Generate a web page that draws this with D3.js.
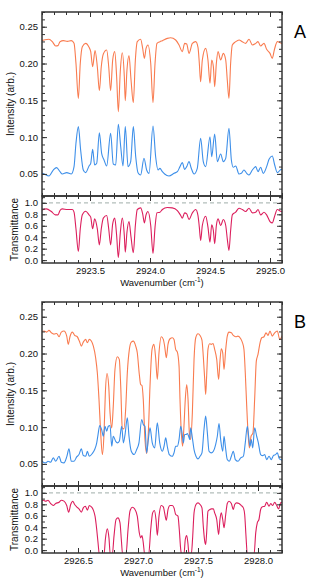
<!DOCTYPE html>
<html>
<head>
<meta charset="utf-8">
<script src="https://cdn.jsdelivr.net/npm/d3@7"></script>
<style>
  body { margin: 0; background: #fff; }
  svg { display: block; font-family: "Liberation Sans", Arial, sans-serif; }
</style>
</head>
<body>
<svg id="chart" width="312" height="588"></svg>
<script>
// ---- panel A (2923.1 - 2925.1 cm-1) ----
const aSample = [
  [2923.089,0.2311],[2923.117,0.2320],[2923.158,0.2329],[2923.186,0.2297],[2923.214,0.2238],[2923.233,0.2243],
  [2923.250,0.2297],[2923.278,0.2311],[2923.311,0.2301],[2923.344,0.2311],[2923.367,0.2274],[2923.383,0.2003],
  [2923.403,0.1527],[2923.419,0.2003],[2923.436,0.2229],[2923.464,0.2274],[2923.492,0.2220],[2923.506,0.2161],
  [2923.522,0.1957],[2923.542,0.2175],[2923.561,0.1957],[2923.578,0.1631],[2923.594,0.1957],[2923.611,0.2129],
  [2923.639,0.2184],[2923.656,0.1957],[2923.672,0.1631],[2923.689,0.2048],[2923.706,0.2161],[2923.722,0.1821],
  [2923.736,0.1346],[2923.753,0.1912],[2923.769,0.2147],[2923.786,0.1821],[2923.794,0.1495],[2923.808,0.1912],
  [2923.825,0.2107],[2923.842,0.1776],[2923.861,0.1468],[2923.878,0.2048],[2923.894,0.2297],[2923.922,0.2329],
  [2923.939,0.2206],[2923.953,0.2070],[2923.967,0.2206],[2923.983,0.2252],[2924.006,0.2003],[2924.025,0.1468],
  [2924.042,0.2003],[2924.058,0.2274],[2924.083,0.2297],[2924.103,0.2311],[2924.144,0.2342],[2924.172,0.2351],
  [2924.214,0.2320],[2924.242,0.2252],[2924.269,0.2161],[2924.289,0.2274],[2924.306,0.2265],[2924.325,0.2138],
  [2924.353,0.2274],[2924.381,0.2297],[2924.400,0.2220],[2924.411,0.2003],[2924.422,0.1753],[2924.436,0.2048],
  [2924.464,0.2206],[2924.483,0.2048],[2924.500,0.1731],[2924.514,0.2048],[2924.528,0.1957],[2924.539,0.1685],
  [2924.553,0.2003],[2924.567,0.2161],[2924.589,0.2048],[2924.611,0.2138],[2924.631,0.2048],[2924.644,0.1776],
  [2924.658,0.1527],[2924.672,0.2003],[2924.686,0.2252],[2924.714,0.2297],[2924.742,0.2320],[2924.769,0.2297],
  [2924.797,0.2274],[2924.825,0.2329],[2924.853,0.2252],[2924.881,0.2274],[2924.900,0.2297],[2924.922,0.2238],
  [2924.950,0.2274],[2924.972,0.2193],[2925.000,0.2138],[2925.019,0.2070],[2925.036,0.2184],[2925.061,0.2297],
  [2925.094,0.2274],[2925.108,0.2265]
];
const aReference = [
  [2923.089,0.0517],[2923.117,0.0499],[2923.158,0.0472],[2923.194,0.0553],[2923.222,0.0585],[2923.250,0.0531],
  [2923.269,0.0499],[2923.306,0.0517],[2923.344,0.0499],[2923.367,0.0599],[2923.383,0.0916],[2923.403,0.1142],
  [2923.422,0.0825],[2923.444,0.0553],[2923.464,0.0517],[2923.492,0.0608],[2923.506,0.0644],[2923.522,0.0834],
  [2923.539,0.0621],[2923.556,0.0644],[2923.578,0.1060],[2923.597,0.0780],[2923.617,0.0689],[2923.639,0.0608],
  [2923.672,0.1051],[2923.694,0.0635],[2923.714,0.0621],[2923.736,0.1174],[2923.756,0.0870],[2923.775,0.0608],
  [2923.794,0.1142],[2923.817,0.0599],[2923.839,0.0667],[2923.861,0.1142],[2923.881,0.0734],[2923.900,0.0517],
  [2923.922,0.0485],[2923.950,0.0712],[2923.972,0.0553],[2923.992,0.0508],[2924.025,0.1151],[2924.047,0.0734],
  [2924.067,0.0553],[2924.083,0.0576],[2924.103,0.0531],[2924.122,0.0499],[2924.158,0.0472],[2924.200,0.0508],
  [2924.228,0.0531],[2924.250,0.0599],[2924.269,0.0653],[2924.289,0.0562],[2924.306,0.0599],[2924.325,0.0667],
  [2924.344,0.0576],[2924.367,0.0499],[2924.394,0.0576],[2924.422,0.0984],[2924.444,0.0667],[2924.464,0.0599],
  [2924.500,0.1006],[2924.514,0.0734],[2924.539,0.1042],[2924.561,0.0667],[2924.589,0.0771],[2924.611,0.0667],
  [2924.631,0.0712],[2924.658,0.1119],[2924.678,0.0689],[2924.694,0.0590],[2924.714,0.0608],[2924.742,0.0499],
  [2924.761,0.0508],[2924.783,0.0553],[2924.806,0.0508],[2924.825,0.0485],[2924.853,0.0553],[2924.881,0.0599],
  [2924.900,0.0531],[2924.922,0.0590],[2924.944,0.0508],[2924.972,0.0599],[2924.992,0.0698],[2925.019,0.0743],
  [2925.039,0.0621],[2925.061,0.0517],[2925.094,0.0562],[2925.108,0.0553]
];
const aTransmit = [
  [2923.089,0.866],[2923.136,0.895],[2923.178,0.849],[2923.211,0.791],[2923.233,0.791],[2923.250,0.866],
  [2923.269,0.895],[2923.311,0.884],[2923.353,0.884],[2923.367,0.837],[2923.383,0.547],[2923.403,0.151],
  [2923.419,0.547],[2923.436,0.791],[2923.464,0.855],[2923.492,0.791],[2923.506,0.750],[2923.522,0.547],
  [2923.539,0.721],[2923.561,0.547],[2923.578,0.267],[2923.594,0.547],[2923.611,0.733],[2923.639,0.779],
  [2923.656,0.547],[2923.672,0.267],[2923.689,0.634],[2923.706,0.733],[2923.722,0.430],[2923.736,0.047],
  [2923.753,0.488],[2923.769,0.733],[2923.786,0.430],[2923.794,0.140],[2923.808,0.488],[2923.825,0.674],
  [2923.842,0.401],[2923.861,0.128],[2923.878,0.605],[2923.894,0.884],[2923.922,0.913],[2923.939,0.808],
  [2923.953,0.651],[2923.967,0.791],[2923.983,0.849],[2924.006,0.605],[2924.025,0.116],[2924.042,0.576],
  [2924.058,0.826],[2924.083,0.837],[2924.103,0.884],[2924.144,0.919],[2924.186,0.913],[2924.228,0.866],
  [2924.256,0.779],[2924.269,0.733],[2924.289,0.826],[2924.306,0.808],[2924.325,0.709],[2924.353,0.826],
  [2924.381,0.884],[2924.400,0.779],[2924.411,0.576],[2924.422,0.343],[2924.436,0.605],[2924.464,0.767],
  [2924.483,0.576],[2924.500,0.314],[2924.514,0.616],[2924.528,0.517],[2924.539,0.285],[2924.553,0.605],
  [2924.567,0.721],[2924.589,0.605],[2924.611,0.709],[2924.631,0.605],[2924.644,0.372],[2924.658,0.169],
  [2924.672,0.517],[2924.686,0.791],[2924.714,0.837],[2924.742,0.907],[2924.769,0.884],[2924.797,0.849],
  [2924.825,0.907],[2924.853,0.826],[2924.881,0.837],[2924.900,0.884],[2924.922,0.791],[2924.950,0.837],
  [2924.972,0.791],[2925.000,0.674],[2925.019,0.651],[2925.036,0.750],[2925.061,0.884],[2925.094,0.849],
  [2925.108,0.849]
];

// ---- panel B (2926.2 - 2928.2 cm-1) ----
const bSample = [
  [2926.189,0.2291],[2926.217,0.2305],[2926.239,0.2291],[2926.258,0.2314],[2926.278,0.2282],[2926.300,0.2264],
  [2926.322,0.2273],[2926.342,0.2228],[2926.361,0.2291],[2926.383,0.2305],[2926.406,0.2237],[2926.419,0.2124],
  [2926.433,0.2228],[2926.453,0.2291],[2926.472,0.2246],[2926.494,0.2228],[2926.511,0.2169],[2926.528,0.2101],
  [2926.544,0.2155],[2926.564,0.2192],[2926.578,0.2146],[2926.594,0.2192],[2926.611,0.2169],[2926.628,0.2101],
  [2926.647,0.1942],[2926.661,0.1738],[2926.675,0.1375],[2926.689,0.0922],[2926.703,0.0627],[2926.717,0.0922],
  [2926.728,0.1466],[2926.742,0.1729],[2926.756,0.1557],[2926.767,0.1194],[2926.781,0.0990],[2926.794,0.1285],
  [2926.808,0.1783],[2926.828,0.1956],[2926.844,0.1920],[2926.856,0.1557],[2926.869,0.0990],[2926.883,0.0976],
  [2926.897,0.1239],[2926.911,0.1738],[2926.928,0.2056],[2926.944,0.2155],[2926.961,0.2169],[2926.981,0.2101],
  [2926.994,0.2010],[2927.011,0.1715],[2927.022,0.1579],[2927.033,0.1566],[2927.044,0.1375],[2927.058,0.0831],
  [2927.072,0.0641],[2927.086,0.0922],[2927.100,0.1557],[2927.117,0.2056],[2927.133,0.2124],[2927.147,0.1942],
  [2927.161,0.1647],[2927.175,0.2010],[2927.194,0.2228],[2927.211,0.2192],[2927.222,0.2101],[2927.236,0.1942],
  [2927.250,0.2124],[2927.267,0.2201],[2927.286,0.2214],[2927.300,0.2192],[2927.314,0.2056],[2927.328,0.2019],
  [2927.342,0.1829],[2927.350,0.1375],[2927.361,0.0922],[2927.372,0.0740],[2927.383,0.1012],[2927.394,0.1375],
  [2927.406,0.1579],[2927.417,0.1375],[2927.428,0.0922],[2927.439,0.0831],[2927.453,0.1194],[2927.467,0.1920],
  [2927.481,0.2214],[2927.500,0.2269],[2927.517,0.2246],[2927.533,0.2183],[2927.544,0.1965],[2927.556,0.1647],
  [2927.564,0.1443],[2927.572,0.1693],[2927.583,0.2056],[2927.597,0.2133],[2927.611,0.2124],[2927.625,0.2137],
  [2927.639,0.2056],[2927.656,0.1920],[2927.672,0.1647],[2927.683,0.1897],[2927.694,0.2065],[2927.706,0.2010],
  [2927.717,0.1783],[2927.731,0.2056],[2927.744,0.2237],[2927.758,0.2291],[2927.778,0.2282],[2927.794,0.2246],
  [2927.814,0.2228],[2927.833,0.2237],[2927.856,0.2201],[2927.869,0.2155],[2927.883,0.2056],[2927.894,0.1738],
  [2927.906,0.1285],[2927.917,0.0922],[2927.928,0.0718],[2927.942,0.0876],[2927.958,0.0922],[2927.972,0.1375],
  [2927.986,0.1897],[2928.000,0.1988],[2928.017,0.2146],[2928.031,0.2214],[2928.050,0.2228],[2928.067,0.2282],
  [2928.083,0.2246],[2928.100,0.2305],[2928.119,0.2237],[2928.139,0.2282],[2928.161,0.2305],[2928.181,0.2192],
  [2928.203,0.2246]
];
const bReference = [
  [2926.189,0.0559],[2926.211,0.0523],[2926.231,0.0514],[2926.250,0.0536],[2926.272,0.0523],[2926.294,0.0582],
  [2926.314,0.0536],[2926.342,0.0604],[2926.361,0.0523],[2926.383,0.0514],[2926.406,0.0595],[2926.425,0.0704],
  [2926.444,0.0536],[2926.467,0.0536],[2926.489,0.0595],[2926.508,0.0627],[2926.528,0.0704],[2926.544,0.0613],
  [2926.564,0.0604],[2926.578,0.0672],[2926.594,0.0604],[2926.619,0.0641],[2926.639,0.0695],[2926.656,0.0786],
  [2926.667,0.0899],[2926.681,0.1022],[2926.697,0.0967],[2926.711,0.0876],[2926.725,0.1012],[2926.739,0.0944],
  [2926.753,0.1012],[2926.767,0.1022],[2926.781,0.0740],[2926.794,0.0876],[2926.814,0.0808],[2926.828,0.0786],
  [2926.844,0.0808],[2926.864,0.1012],[2926.878,0.0786],[2926.892,0.0899],[2926.911,0.1126],[2926.925,0.0876],
  [2926.944,0.0672],[2926.967,0.0627],[2926.989,0.0695],[2927.008,0.0786],[2927.031,0.1103],[2927.044,0.1035],
  [2927.058,0.1012],[2927.072,0.0650],[2927.086,0.0831],[2927.100,0.0990],[2927.119,0.0786],[2927.139,0.0718],
  [2927.161,0.1058],[2927.181,0.0786],[2927.203,0.0672],[2927.217,0.0740],[2927.231,0.0854],[2927.244,0.0740],
  [2927.261,0.0627],[2927.286,0.0604],[2927.300,0.0650],[2927.314,0.0740],[2927.328,0.0740],[2927.342,0.0831],
  [2927.356,0.1012],[2927.367,0.0922],[2927.378,0.0786],[2927.389,0.0899],[2927.400,0.0899],[2927.411,0.0913],
  [2927.422,0.0876],[2927.431,0.0831],[2927.439,0.0990],[2927.453,0.0854],[2927.467,0.0695],[2927.483,0.0604],
  [2927.500,0.0568],[2927.517,0.0604],[2927.533,0.0650],[2927.550,0.0967],[2927.564,0.1149],[2927.578,0.0922],
  [2927.592,0.0672],[2927.611,0.0650],[2927.628,0.0672],[2927.647,0.0763],[2927.661,0.0876],[2927.675,0.1049],
  [2927.689,0.0831],[2927.706,0.0672],[2927.717,0.0876],[2927.728,0.0740],[2927.744,0.0559],[2927.761,0.0536],
  [2927.778,0.0604],[2927.794,0.0672],[2927.811,0.0559],[2927.833,0.0536],[2927.856,0.0582],[2927.878,0.0604],
  [2927.894,0.0786],[2927.911,0.1012],[2927.922,0.0876],[2927.933,0.0740],[2927.944,0.0831],[2927.956,0.0718],
  [2927.972,0.0990],[2927.989,0.0876],[2928.003,0.0786],[2928.022,0.0627],[2928.039,0.0613],[2928.056,0.0627],
  [2928.072,0.0559],[2928.092,0.0604],[2928.111,0.0559],[2928.128,0.0613],[2928.147,0.0627],[2928.161,0.0650],
  [2928.178,0.0568],[2928.203,0.0550]
];
const bTransmit = [
  [2926.189,0.855],[2926.211,0.872],[2926.231,0.855],[2926.250,0.872],[2926.272,0.814],[2926.294,0.779],
  [2926.314,0.814],[2926.342,0.837],[2926.361,0.872],[2926.383,0.855],[2926.406,0.779],[2926.422,0.663],
  [2926.439,0.797],[2926.456,0.855],[2926.472,0.797],[2926.489,0.756],[2926.508,0.721],[2926.528,0.663],
  [2926.544,0.738],[2926.561,0.767],[2926.578,0.698],[2926.594,0.779],[2926.611,0.756],[2926.628,0.698],
  [2926.642,0.593],[2926.656,0.360],[2926.667,0.128],[2926.678,-0.076],[2926.717,-0.076],[2926.728,0.186],
  [2926.744,0.372],[2926.758,0.215],[2926.769,-0.076],[2926.786,-0.076],[2926.800,0.244],[2926.817,0.535],
  [2926.833,0.564],[2926.850,0.477],[2926.861,0.186],[2926.872,-0.076],[2926.900,-0.076],[2926.917,0.360],
  [2926.933,0.680],[2926.953,0.750],[2926.972,0.721],[2926.994,0.593],[2927.011,0.302],[2927.022,0.215],
  [2927.033,0.256],[2927.044,0.128],[2927.056,-0.076],[2927.089,-0.076],[2927.106,0.360],[2927.122,0.651],
  [2927.136,0.692],[2927.150,0.535],[2927.161,0.256],[2927.175,0.593],[2927.194,0.779],[2927.211,0.756],
  [2927.222,0.651],[2927.236,0.523],[2927.250,0.709],[2927.267,0.779],[2927.286,0.779],[2927.300,0.738],
  [2927.314,0.622],[2927.333,0.593],[2927.344,0.360],[2927.356,0.012],[2927.364,-0.076],[2927.383,-0.076],
  [2927.394,0.186],[2927.406,0.256],[2927.417,0.099],[2927.425,-0.076],[2927.444,-0.076],[2927.456,0.244],
  [2927.467,0.651],[2927.483,0.797],[2927.500,0.826],[2927.517,0.797],[2927.533,0.738],[2927.544,0.419],
  [2927.556,0.157],[2927.564,0.099],[2927.572,0.302],[2927.583,0.680],[2927.600,0.709],[2927.611,0.721],
  [2927.628,0.721],[2927.639,0.651],[2927.656,0.535],[2927.672,0.273],[2927.683,0.535],[2927.694,0.651],
  [2927.706,0.535],[2927.717,0.390],[2927.731,0.622],[2927.744,0.814],[2927.758,0.855],[2927.778,0.814],
  [2927.794,0.709],[2927.806,0.797],[2927.822,0.826],[2927.842,0.814],[2927.861,0.779],[2927.878,0.738],
  [2927.889,0.622],[2927.900,0.244],[2927.911,-0.076],[2927.967,-0.076],[2927.981,0.302],[2927.994,0.477],
  [2928.008,0.535],[2928.022,0.709],[2928.036,0.756],[2928.056,0.767],[2928.072,0.837],[2928.092,0.767],
  [2928.106,0.814],[2928.122,0.779],[2928.139,0.837],[2928.156,0.779],[2928.172,0.721],[2928.189,0.826],
  [2928.206,0.837]
];

// axis ticks
const intensityMajor = [0.05, 0.10, 0.15, 0.20, 0.25];
const transMajor = [0.0, 0.2, 0.4, 0.6, 0.8, 1.0];
const aTicks = [2923.5, 2924.0, 2924.5, 2925.0];
const bTicks = [2926.5, 2927.0, 2927.5, 2928.0];

const panels = [
  {name: 'A', xDomain: [2923.1, 2925.1], ticks: aTicks, top: 12, sample: aSample, ref: aReference, trans: aTransmit},
  {name: 'B', xDomain: [2926.2, 2928.2], ticks: bTicks, top: 302, sample: bSample, ref: bReference, trans: bTransmit}
];

const colors = {sample: '#f97b4f', ref: '#3d8fe9', trans: '#dc1f5d', dash: '#b3bebb', frame: '#333'};
const left = 42, right = 282;
const upperH = 184, lowerH = 67;

const svg = d3.select('#chart');

function styleAxis(g) {
  g.select('.domain').remove();
  g.selectAll('.tick line').attr('stroke', colors.frame).attr('stroke-width', 1);
  g.selectAll('.tick text').attr('fill', '#111').style('font-size', '9.5px');
}

// inward ticks on all four sides of a box, labels left (and bottom if asked)
function frameAxes(g, x, y, yTop, yBot, major, minor, fmt, labelBottom) {
  g.append('g').attr('transform', `translate(${left},0)`)
    .call(d3.axisLeft(y).tickValues(minor).tickSize(-3).tickFormat(''))
    .call(styleAxis);
  g.append('g').attr('transform', `translate(${left},0)`)
    .call(d3.axisLeft(y).tickValues(major).tickSize(-5).tickPadding(4).tickFormat(d3.format(fmt)))
    .call(styleAxis);
  g.append('g').attr('transform', `translate(${right},0)`)
    .call(d3.axisRight(y).tickValues(minor).tickSize(-3).tickFormat(''))
    .call(styleAxis);
  g.append('g').attr('transform', `translate(${right},0)`)
    .call(d3.axisRight(y).tickValues(major).tickSize(-5).tickFormat(''))
    .call(styleAxis);

  const xMinor = d3.range(Math.round(x.domain()[0] * 10), Math.round(x.domain()[1] * 10) + 1).map(d => d / 10);
  g.append('g').attr('transform', `translate(0,${yTop})`)
    .call(d3.axisTop(x).tickValues(xMinor).tickSize(-3).tickFormat(''))
    .call(styleAxis);
  g.append('g').attr('transform', `translate(0,${yTop})`)
    .call(d3.axisTop(x).tickValues(x.major).tickSize(-5).tickFormat(''))
    .call(styleAxis);
  g.append('g').attr('transform', `translate(0,${yBot})`)
    .call(d3.axisBottom(x).tickValues(xMinor).tickSize(-3).tickFormat(''))
    .call(styleAxis);
  g.append('g').attr('transform', `translate(0,${yBot})`)
    .call(d3.axisBottom(x).tickValues(x.major).tickSize(-5).tickPadding(4)
      .tickFormat(labelBottom ? d3.format('.1f') : ''))
    .call(styleAxis);

  g.append('rect')
    .attr('x', left).attr('y', yTop)
    .attr('width', right - left).attr('height', yBot - yTop)
    .attr('fill', 'none').attr('stroke', colors.frame).attr('stroke-width', 1.5);
}

panels.forEach((p, i) => {
  const top = p.top, split = top + upperH, bottom = split + lowerH;
  const g = svg.append('g');

  const x = d3.scaleLinear().domain(p.xDomain).range([left, right]);
  x.major = p.ticks;
  const yI = d3.scaleLinear().domain([0.02, 0.27]).range([split, top]);
  const yT = d3.scaleLinear().domain([-0.05, 1.12]).range([bottom, split]);

  const clipU = 'clipU' + i, clipL = 'clipL' + i;
  const defs = g.append('defs');
  defs.append('clipPath').attr('id', clipU).append('rect')
    .attr('x', left).attr('y', top).attr('width', right - left).attr('height', upperH);
  defs.append('clipPath').attr('id', clipL).append('rect')
    .attr('x', left).attr('y', split).attr('width', right - left).attr('height', lowerH);

  const lineI = d3.line().x(d => x(d[0])).y(d => yI(d[1])).curve(d3.curveMonotoneX);
  const lineT = d3.line().x(d => x(d[0])).y(d => yT(d[1])).curve(d3.curveMonotoneX);

  const upper = g.append('g').attr('clip-path', `url(#${clipU})`);
  upper.append('path').datum(p.sample).attr('d', lineI)
    .attr('fill', 'none').attr('stroke', colors.sample).attr('stroke-width', 1.1);
  upper.append('path').datum(p.ref).attr('d', lineI)
    .attr('fill', 'none').attr('stroke', colors.ref).attr('stroke-width', 1.1);

  const lower = g.append('g').attr('clip-path', `url(#${clipL})`);
  lower.append('line')
    .attr('x1', left).attr('x2', right).attr('y1', yT(1)).attr('y2', yT(1))
    .attr('stroke', colors.dash).attr('stroke-width', 1.2).attr('stroke-dasharray', '4,3');
  lower.append('path').datum(p.trans).attr('d', lineT)
    .attr('fill', 'none').attr('stroke', colors.trans).attr('stroke-width', 1.1);

  const intMinor = d3.range(2, 28).map(d => d / 100);
  const trMinor = d3.range(0, 12).map(d => d / 10);
  frameAxes(g, x, yI, top, split, intensityMajor, intMinor, '.2f', false);
  frameAxes(g, x, yT, split, bottom, transMajor, trMinor, '.1f', true);

  // axis titles
  g.append('text')
    .attr('transform', `translate(14,${(top + split) / 2}) rotate(-90)`)
    .attr('text-anchor', 'middle').style('font-size', '10px').attr('fill', '#111')
    .text('Intensity (arb.)');
  g.append('text')
    .attr('transform', `translate(18,${(split + bottom) / 2}) rotate(-90)`)
    .attr('text-anchor', 'middle').style('font-size', '10px').attr('fill', '#111')
    .text('Transmittance');
  const xt = g.append('text')
    .attr('x', (left + right) / 2).attr('y', bottom + 23)
    .attr('text-anchor', 'middle').style('font-size', '9.5px').attr('fill', '#111');
  xt.append('tspan').text('Wavenumber (cm');
  xt.append('tspan').attr('dy', -4).style('font-size', '6.5px').text('-1');
  xt.append('tspan').attr('dy', 4).text(')');

  // panel letter
  g.append('text')
    .attr('x', 300).attr('y', top + 26)
    .attr('text-anchor', 'middle').style('font-size', '18px').attr('fill', '#000')
    .text(p.name);
});
</script>
</body>
</html>
